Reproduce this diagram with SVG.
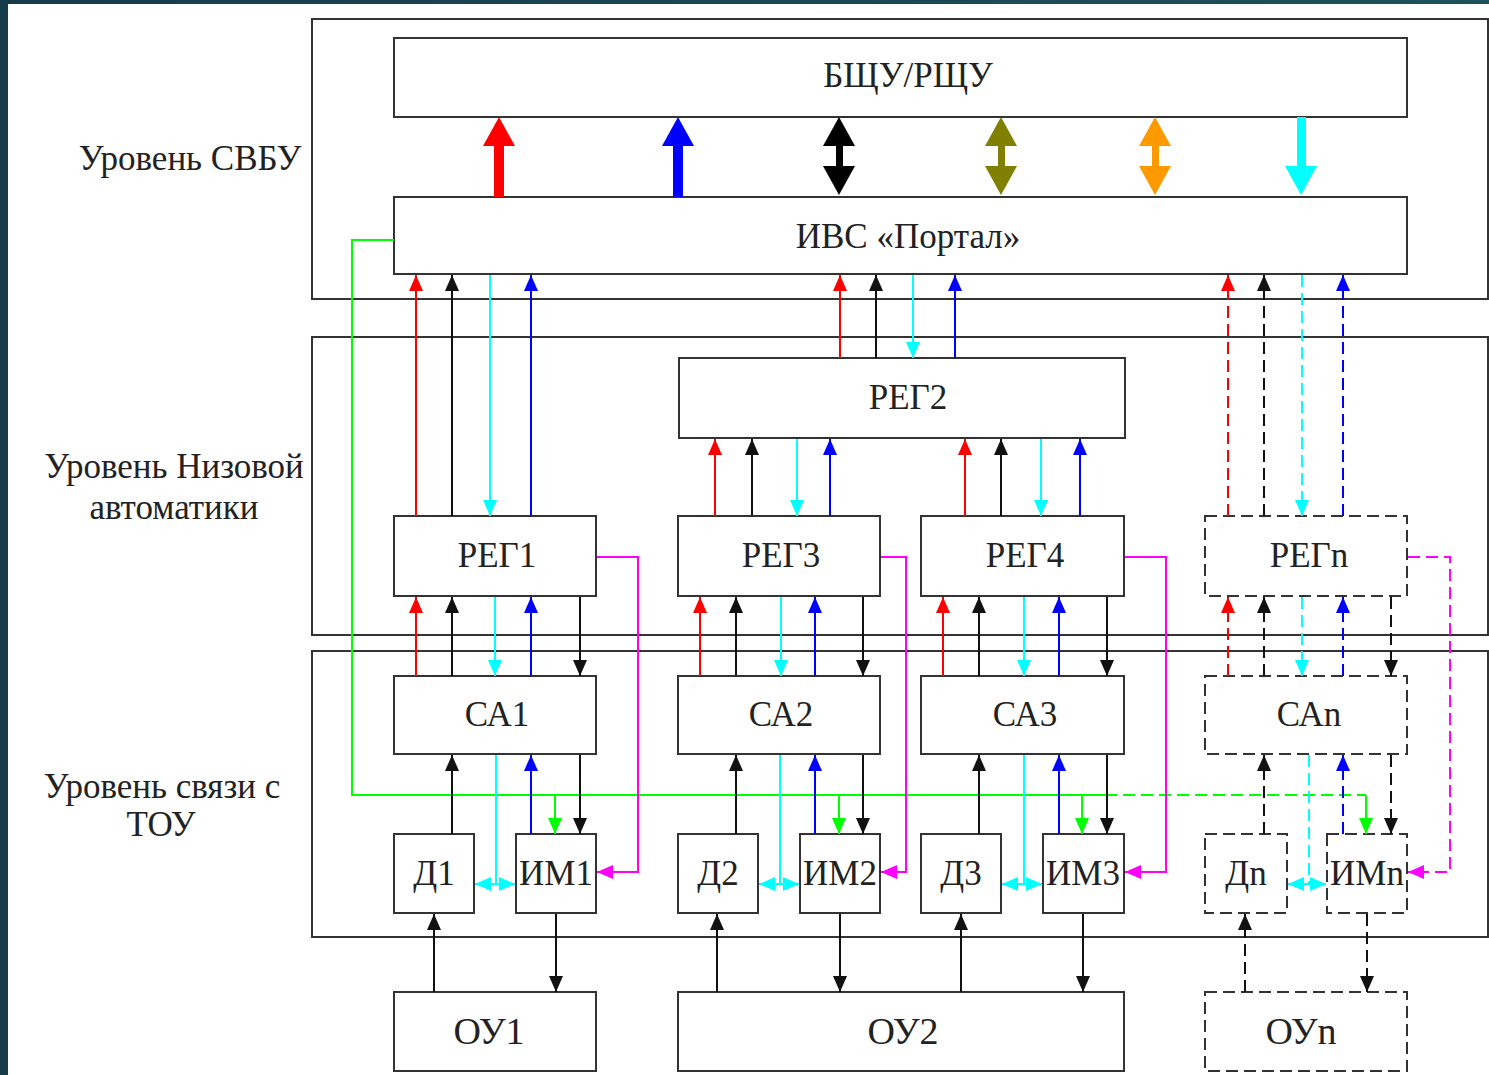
<svg xmlns="http://www.w3.org/2000/svg" width="1489" height="1075" viewBox="0 0 1489 1075">
<defs>
<linearGradient id="bg" x1="0" y1="0" x2="1" y2="0">
<stop offset="0" stop-color="#163c4b"/>
<stop offset="1" stop-color="#1e5259"/>
</linearGradient>
<marker id="mr" viewBox="0 0 16 14" refX="16" refY="7" markerWidth="16" markerHeight="14" markerUnits="userSpaceOnUse" orient="auto-start-reverse"><path d="M0,0L16,7L0,14z" fill="#ff0000"/></marker>
<marker id="mk" viewBox="0 0 16 14" refX="16" refY="7" markerWidth="16" markerHeight="14" markerUnits="userSpaceOnUse" orient="auto-start-reverse"><path d="M0,0L16,7L0,14z" fill="#111"/></marker>
<marker id="mc" viewBox="0 0 16 14" refX="16" refY="7" markerWidth="16" markerHeight="14" markerUnits="userSpaceOnUse" orient="auto-start-reverse"><path d="M0,0L16,7L0,14z" fill="#00ffff"/></marker>
<marker id="mb" viewBox="0 0 16 14" refX="16" refY="7" markerWidth="16" markerHeight="14" markerUnits="userSpaceOnUse" orient="auto-start-reverse"><path d="M0,0L16,7L0,14z" fill="#0000ff"/></marker>
<marker id="mg" viewBox="0 0 16 14" refX="16" refY="7" markerWidth="16" markerHeight="14" markerUnits="userSpaceOnUse" orient="auto-start-reverse"><path d="M0,0L16,7L0,14z" fill="#00ff00"/></marker>
<marker id="mm" viewBox="0 0 16 14" refX="16" refY="7" markerWidth="16" markerHeight="14" markerUnits="userSpaceOnUse" orient="auto-start-reverse"><path d="M0,0L16,7L0,14z" fill="#ff00ff"/></marker>
</defs>
<style>
.frame{fill:none;stroke:#333;stroke-width:2}
.box{fill:#fff;stroke:#333;stroke-width:2}
.dbox{fill:#fff;stroke:#333;stroke-width:2;stroke-dasharray:12 6}
text{font-family:"Liberation Serif","DejaVu Serif",serif;font-size:35px;fill:#222;text-anchor:middle}
.ou{font-size:38px}
.c line,.c path{fill:none;stroke-width:2}
.r{stroke:#ff0000;marker-end:url(#mr)}
.k{stroke:#111;marker-end:url(#mk)}
.cy{stroke:#00ffff;marker-end:url(#mc)}
.cn{stroke:#00ffff}
.cd{stroke:#00ffff;marker-start:url(#mc);marker-end:url(#mc)}
.b{stroke:#0000ff;marker-end:url(#mb)}
.g{stroke:#00ff00;marker-end:url(#mg)}
.gn{stroke:#00ff00}
.m{stroke:#ff00ff;marker-end:url(#mm)}
.d{stroke-dasharray:12 6}
</style>
<rect x="0" y="0" width="1489" height="1075" fill="url(#bg)"/>
<rect x="8" y="4" width="1481" height="1071" fill="#ffffff"/>

<g id="levels">
<rect class="frame" x="312" y="19" width="1176" height="280"/>
<rect class="frame" x="312" y="337" width="1176" height="298"/>
<rect class="frame" x="312" y="651" width="1176" height="286"/>
<text x="190" y="170">Уровень СВБУ</text>
<text x="174" y="478">Уровень Низовой</text>
<text x="174" y="519">автоматики</text>
<text x="162" y="798">Уровень связи с</text>
<text x="161" y="836">ТОУ</text>
</g>

<g id="bshu"><rect class="box" x="394" y="38" width="1013" height="79"/><text x="908" y="87">БЩУ/РЩУ</text></g>
<g id="ivs"><rect class="box" x="394" y="197" width="1013" height="77"/><text x="908" y="248">ИВС «Портал»</text></g>
<g id="reg2"><rect class="box" x="679" y="358" width="446" height="80"/><text x="908" y="409">РЕГ2</text></g>
<g id="reg1"><rect class="box" x="394" y="516" width="202" height="80"/><text x="497" y="567">РЕГ1</text></g>
<g id="reg3"><rect class="box" x="678" y="516" width="202" height="80"/><text x="781" y="567">РЕГ3</text></g>
<g id="reg4"><rect class="box" x="921" y="516" width="203" height="80"/><text x="1025" y="567">РЕГ4</text></g>
<g id="regn"><rect class="dbox" x="1205" y="516" width="202" height="80"/><text x="1309" y="567">РЕГn</text></g>
<g id="ca1"><rect class="box" x="394" y="676" width="202" height="78"/><text x="497" y="726">СА1</text></g>
<g id="ca2"><rect class="box" x="678" y="676" width="202" height="78"/><text x="781" y="726">СА2</text></g>
<g id="ca3"><rect class="box" x="921" y="676" width="203" height="78"/><text x="1025" y="726">СА3</text></g>
<g id="can"><rect class="dbox" x="1205" y="676" width="202" height="78"/><text x="1309" y="726">САn</text></g>
<g id="d1"><rect class="box" x="394" y="834" width="80" height="79"/><text x="434" y="885">Д1</text></g>
<g id="im1"><rect class="box" x="516" y="834" width="80" height="79"/><text x="556" y="885">ИМ1</text></g>
<g id="d2"><rect class="box" x="678" y="834" width="80" height="79"/><text x="718" y="885">Д2</text></g>
<g id="im2"><rect class="box" x="800" y="834" width="80" height="79"/><text x="840" y="885">ИМ2</text></g>
<g id="d3"><rect class="box" x="921" y="834" width="80" height="79"/><text x="961" y="885">Д3</text></g>
<g id="im3"><rect class="box" x="1043" y="834" width="81" height="79"/><text x="1083" y="885">ИМ3</text></g>
<g id="dn"><rect class="dbox" x="1205" y="834" width="82" height="79"/><text x="1246" y="885">Дn</text></g>
<g id="imn"><rect class="dbox" x="1327" y="834" width="80" height="79"/><text x="1367" y="885">ИМn</text></g>
<g id="ou1"><rect class="box" x="394" y="992" width="202" height="79"/><text class="ou" x="489" y="1044">ОУ1</text></g>
<g id="ou2"><rect class="box" x="678" y="992" width="446" height="79"/><text class="ou" x="903" y="1044">ОУ2</text></g>
<g id="oun"><rect class="dbox" x="1205" y="992" width="202" height="79"/><text class="ou" x="1301" y="1044">ОУn</text></g>

<g id="connectors" class="c">
<!-- thick arrows between ИВС and БЩУ -->
<rect x="494" y="143" width="10" height="54" fill="#ff0000"/>
<polygon points="499,117 483,146 515,146" fill="#ff0000"/>
<rect x="673" y="143" width="10" height="54" fill="#0000ff"/>
<polygon points="678,117 662,146 694,146" fill="#0000ff"/>
<rect x="836" y="143" width="7" height="26" fill="#000"/>
<polygon points="839,117 823,146 855,146" fill="#000"/>
<polygon points="839,195 823,166 855,166" fill="#000"/>
<rect x="998" y="143" width="7" height="26" fill="#808000"/>
<polygon points="1001,117 985,146 1017,146" fill="#808000"/>
<polygon points="1001,195 985,166 1017,166" fill="#808000"/>
<rect x="1152" y="143" width="7" height="26" fill="#ff9900"/>
<polygon points="1155,117 1139,146 1171,146" fill="#ff9900"/>
<polygon points="1155,195 1139,166 1171,166" fill="#ff9900"/>
<rect x="1297" y="117" width="9" height="52" fill="#00ffff"/>
<polygon points="1301,195 1285,166 1317,166" fill="#00ffff"/>

<!-- РЕГ1 to ИВС -->
<line class="r" x1="416" y1="516" x2="416" y2="275"/>
<line class="k" x1="452" y1="516" x2="452" y2="275"/>
<line class="cy" x1="490" y1="275" x2="490" y2="516"/>
<line class="b" x1="531" y1="516" x2="531" y2="275"/>
<!-- РЕГ2 to ИВС -->
<line class="r" x1="840" y1="358" x2="840" y2="275"/>
<line class="k" x1="876" y1="358" x2="876" y2="275"/>
<line class="cy" x1="913" y1="275" x2="913" y2="358"/>
<line class="b" x1="955" y1="358" x2="955" y2="275"/>
<!-- РЕГn to ИВС -->
<line class="r d" x1="1228" y1="516" x2="1228" y2="275"/>
<line class="k d" x1="1264" y1="516" x2="1264" y2="275"/>
<line class="cy d" x1="1302" y1="275" x2="1302" y2="516"/>
<line class="b d" x1="1343" y1="516" x2="1343" y2="275"/>
<!-- РЕГ3 / РЕГ4 to РЕГ2 -->
<line class="r" x1="715" y1="516" x2="715" y2="439"/>
<line class="k" x1="752" y1="516" x2="752" y2="439"/>
<line class="cy" x1="797" y1="439" x2="797" y2="516"/>
<line class="b" x1="830" y1="516" x2="830" y2="439"/>
<line class="r" x1="965" y1="516" x2="965" y2="439"/>
<line class="k" x1="1001" y1="516" x2="1001" y2="439"/>
<line class="cy" x1="1041" y1="439" x2="1041" y2="516"/>
<line class="b" x1="1080" y1="516" x2="1080" y2="439"/>
<!-- СА to РЕГ -->
<line class="r" x1="416" y1="676" x2="416" y2="597"/>
<line class="k" x1="452" y1="676" x2="452" y2="597"/>
<line class="cy" x1="495" y1="597" x2="495" y2="676"/>
<line class="b" x1="531" y1="676" x2="531" y2="597"/>
<line class="k" x1="580" y1="597" x2="580" y2="676"/>
<line class="r" x1="700" y1="676" x2="700" y2="597"/>
<line class="k" x1="736" y1="676" x2="736" y2="597"/>
<line class="cy" x1="781" y1="597" x2="781" y2="676"/>
<line class="b" x1="815" y1="676" x2="815" y2="597"/>
<line class="k" x1="863" y1="597" x2="863" y2="676"/>
<line class="r" x1="943" y1="676" x2="943" y2="597"/>
<line class="k" x1="979" y1="676" x2="979" y2="597"/>
<line class="cy" x1="1024" y1="597" x2="1024" y2="676"/>
<line class="b" x1="1059" y1="676" x2="1059" y2="597"/>
<line class="k" x1="1107" y1="597" x2="1107" y2="676"/>
<line class="r d" x1="1228" y1="676" x2="1228" y2="597"/>
<line class="k d" x1="1264" y1="676" x2="1264" y2="597"/>
<line class="cy d" x1="1302" y1="597" x2="1302" y2="676"/>
<line class="b d" x1="1343" y1="676" x2="1343" y2="597"/>
<line class="k d" x1="1391" y1="597" x2="1391" y2="676"/>
<!-- green line -->
<path class="gn" d="M394,240H352V795H1105"/>
<path class="gn d" d="M1105,795H1366"/>
<line class="g" x1="555" y1="795" x2="555" y2="834"/>
<line class="g" x1="839" y1="795" x2="839" y2="834"/>
<line class="g" x1="1082" y1="795" x2="1082" y2="834"/>
<line class="g" x1="1366" y1="795" x2="1366" y2="834"/>
<!-- Д/ИМ to СА -->
<line class="k" x1="452" y1="834" x2="452" y2="755"/>
<line class="cn" x1="496" y1="755" x2="496" y2="884"/>
<line class="b" x1="531" y1="834" x2="531" y2="755"/>
<line class="k" x1="580" y1="755" x2="580" y2="834"/>
<line class="k" x1="736" y1="834" x2="736" y2="755"/>
<line class="cn" x1="780" y1="755" x2="780" y2="884"/>
<line class="b" x1="815" y1="834" x2="815" y2="755"/>
<line class="k" x1="863" y1="755" x2="863" y2="834"/>
<line class="k" x1="979" y1="834" x2="979" y2="755"/>
<line class="cn" x1="1024" y1="755" x2="1024" y2="884"/>
<line class="b" x1="1059" y1="834" x2="1059" y2="755"/>
<line class="k" x1="1107" y1="755" x2="1107" y2="834"/>
<line class="k d" x1="1264" y1="834" x2="1264" y2="755"/>
<line class="cn d" x1="1309" y1="755" x2="1309" y2="884"/>
<line class="b d" x1="1343" y1="834" x2="1343" y2="755"/>
<line class="k d" x1="1391" y1="755" x2="1391" y2="834"/>
<!-- cyan Д-ИМ double arrows -->
<line class="cd" x1="475" y1="884" x2="515" y2="884"/>
<line class="cd" x1="759" y1="884" x2="799" y2="884"/>
<line class="cd" x1="1002" y1="884" x2="1042" y2="884"/>
<line class="cd" x1="1288" y1="884" x2="1326" y2="884"/>
<!-- magenta РЕГ to ИМ -->
<path class="m" d="M597,557H638V872H597"/>
<path class="m" d="M881,557H906V872H881"/>
<path class="m" d="M1125,557H1166V872H1125"/>
<path class="m d" d="M1408,557H1450V872H1408"/>
<!-- ОУ -->
<line class="k" x1="434" y1="992" x2="434" y2="914"/>
<line class="k" x1="556" y1="914" x2="556" y2="992"/>
<line class="k" x1="717" y1="992" x2="717" y2="914"/>
<line class="k" x1="840" y1="914" x2="840" y2="992"/>
<line class="k" x1="961" y1="992" x2="961" y2="914"/>
<line class="k" x1="1083" y1="914" x2="1083" y2="992"/>
<line class="k d" x1="1245" y1="992" x2="1245" y2="914"/>
<line class="k d" x1="1367" y1="914" x2="1367" y2="992"/>
</g>
</svg>
